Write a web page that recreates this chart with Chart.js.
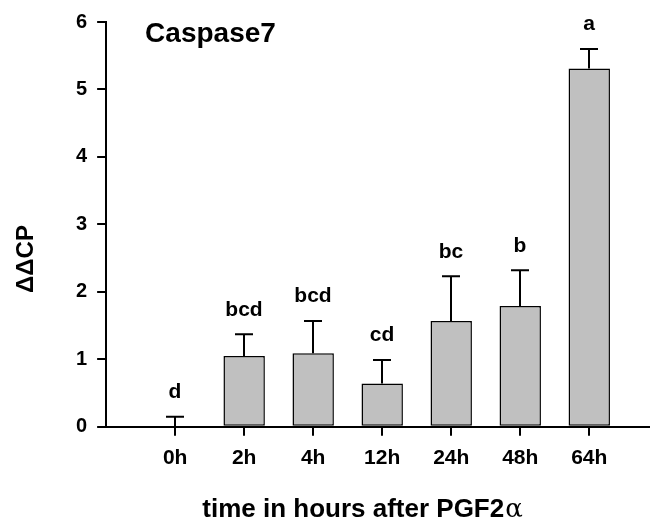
<!DOCTYPE html>
<html lang="en">
<head>
  <meta charset="UTF-8">
  <title>Caspase7</title>
  <script src="https://cdn.jsdelivr.net/npm/chart.js"></script>
  <style>
    body { margin: 0; background: #fff; }
    #wrap { width: 650px; height: 523px; }
  </style>
</head>
<body>
  <div id="wrap"><canvas id="caspase"></canvas></div>
  <script>
    // values
    var categories = ["0h", "2h", "4h", "12h", "24h", "48h", "64h"];
    var means = [0, 1.05, 1.09, 0.64, 1.57, 1.79, 5.31];
    var errors = [0.15, 0.32, 0.48, 0.35, 0.66, 0.53, 0.29];
    var letters = ["d", "bcd", "bcd", "cd", "bc", "b", "a"];
    var yTicks = [0, 1, 2, 3, 4, 5, 6];

    var FONT = "'Liberation Sans', Arial, sans-serif";

    // error bars, x tick marks, significance letters and the titles
    var extras = {
      id: "extras",
      afterDatasetsDraw: function (chart) {
        var ctx = chart.ctx;
        var xs = chart.scales.x, ys = chart.scales.y;
        var base = chart.chartArea.bottom;
        ctx.save();
        ctx.strokeStyle = "#000";
        ctx.lineWidth = 2;
        ctx.fillStyle = "#000";
        ctx.font = "bold 21px " + FONT;
        ctx.textAlign = "center";
        ctx.textBaseline = "bottom";
        for (var i = 0; i < means.length; i++) {
          var x = Math.round(xs.getPixelForValue(i));
          var y0 = ys.getPixelForValue(means[i]);
          var y1 = ys.getPixelForValue(means[i] + errors[i]);
          ctx.beginPath();
          ctx.moveTo(x, y0);
          ctx.lineTo(x, y1);
          ctx.moveTo(x - 9, y1);
          ctx.lineTo(x + 9, y1);
          // tick under the category
          ctx.moveTo(x, base);
          ctx.lineTo(x, base + 9);
          ctx.stroke();
          ctx.fillText(letters[i], x, y1 - 14);
        }
        ctx.restore();
      },
      afterDraw: function (chart) {
        var ctx = chart.ctx, a = chart.chartArea;
        ctx.save();
        ctx.fillStyle = "#000";
        // panel title
        ctx.font = "bold 28px " + FONT;
        ctx.textAlign = "left";
        ctx.textBaseline = "alphabetic";
        ctx.fillText("Caspase7", a.left + 39, a.top + 20);
        // x title, alpha in a plain face
        var t1 = "time in hours after PGF2", t2 = "\u03b1";
        ctx.font = "bold 26px " + FONT;
        var w1 = ctx.measureText(t1).width;
        ctx.font = "26px 'DejaVu Serif', serif";
        var w2 = ctx.measureText(t2).width;
        var cx = 362;
        var sx = cx - (w1 + w2) / 2;
        ctx.font = "bold 26px " + FONT;
        ctx.fillText(t1, sx, 517);
        ctx.font = "26px 'DejaVu Serif', serif";
        ctx.fillText(t2, sx + w1 + 1, 517);
        // y title
        ctx.translate(33, a.top + 237);
        ctx.rotate(-Math.PI / 2);
        ctx.textAlign = "center";
        ctx.font = "bold 24px " + FONT;
        ctx.fillText("\u0394\u0394CP", 0, 0);
        ctx.restore();
      }
    };

    var ctx = document.getElementById("caspase").getContext("2d");
    var chart = new Chart(ctx, {
      type: "bar",
      data: {
        datasets: [{
          data: means.map(function (v, i) { return { x: i, y: v }; }),
          backgroundColor: "#c0c0c0",
          borderColor: "#000",
          borderWidth: 1.5,
          borderSkipped: false,
          categoryPercentage: 1,
          barPercentage: 0.6
        }]
      },
      options: {
        responsive: true,
        maintainAspectRatio: false,
        animation: false,
        layout: { padding: { left: 66, top: 14, right: 0, bottom: 41 } },
        plugins: { legend: { display: false }, tooltip: { enabled: false } },
        scales: {
          x: {
            type: "linear",
            offset: false,
            min: -1,
            max: 6.88,
            afterBuildTicks: function (s) {
              s.ticks = categories.map(function (c, i) { return { value: i }; });
            },
            ticks: {
              callback: function (v) { return categories[v]; },
              color: "#000",
              font: { family: FONT, size: 21, weight: "bold" },
              padding: 11,
              maxRotation: 0
            },
            // tick marks are drawn by the plugin, grid only reserves their room
            grid: { offset: false, drawOnChartArea: false, tickLength: 8, color: "rgba(0,0,0,0)" },
            border: { color: "#000", width: 2 }
          },
          y: {
            min: 0,
            max: 6,
            afterBuildTicks: function (s) {
              s.ticks = yTicks.map(function (v) { return { value: v }; });
            },
            ticks: {
              color: "#000",
              font: { family: FONT, size: 20, weight: "bold" },
              padding: 10
            },
            grid: { drawOnChartArea: false, tickLength: 9, color: "#000", lineWidth: 2 },
            border: { color: "#000", width: 2 }
          }
        }
      },
      plugins: [extras]
    });
  </script>
</body>
</html>
